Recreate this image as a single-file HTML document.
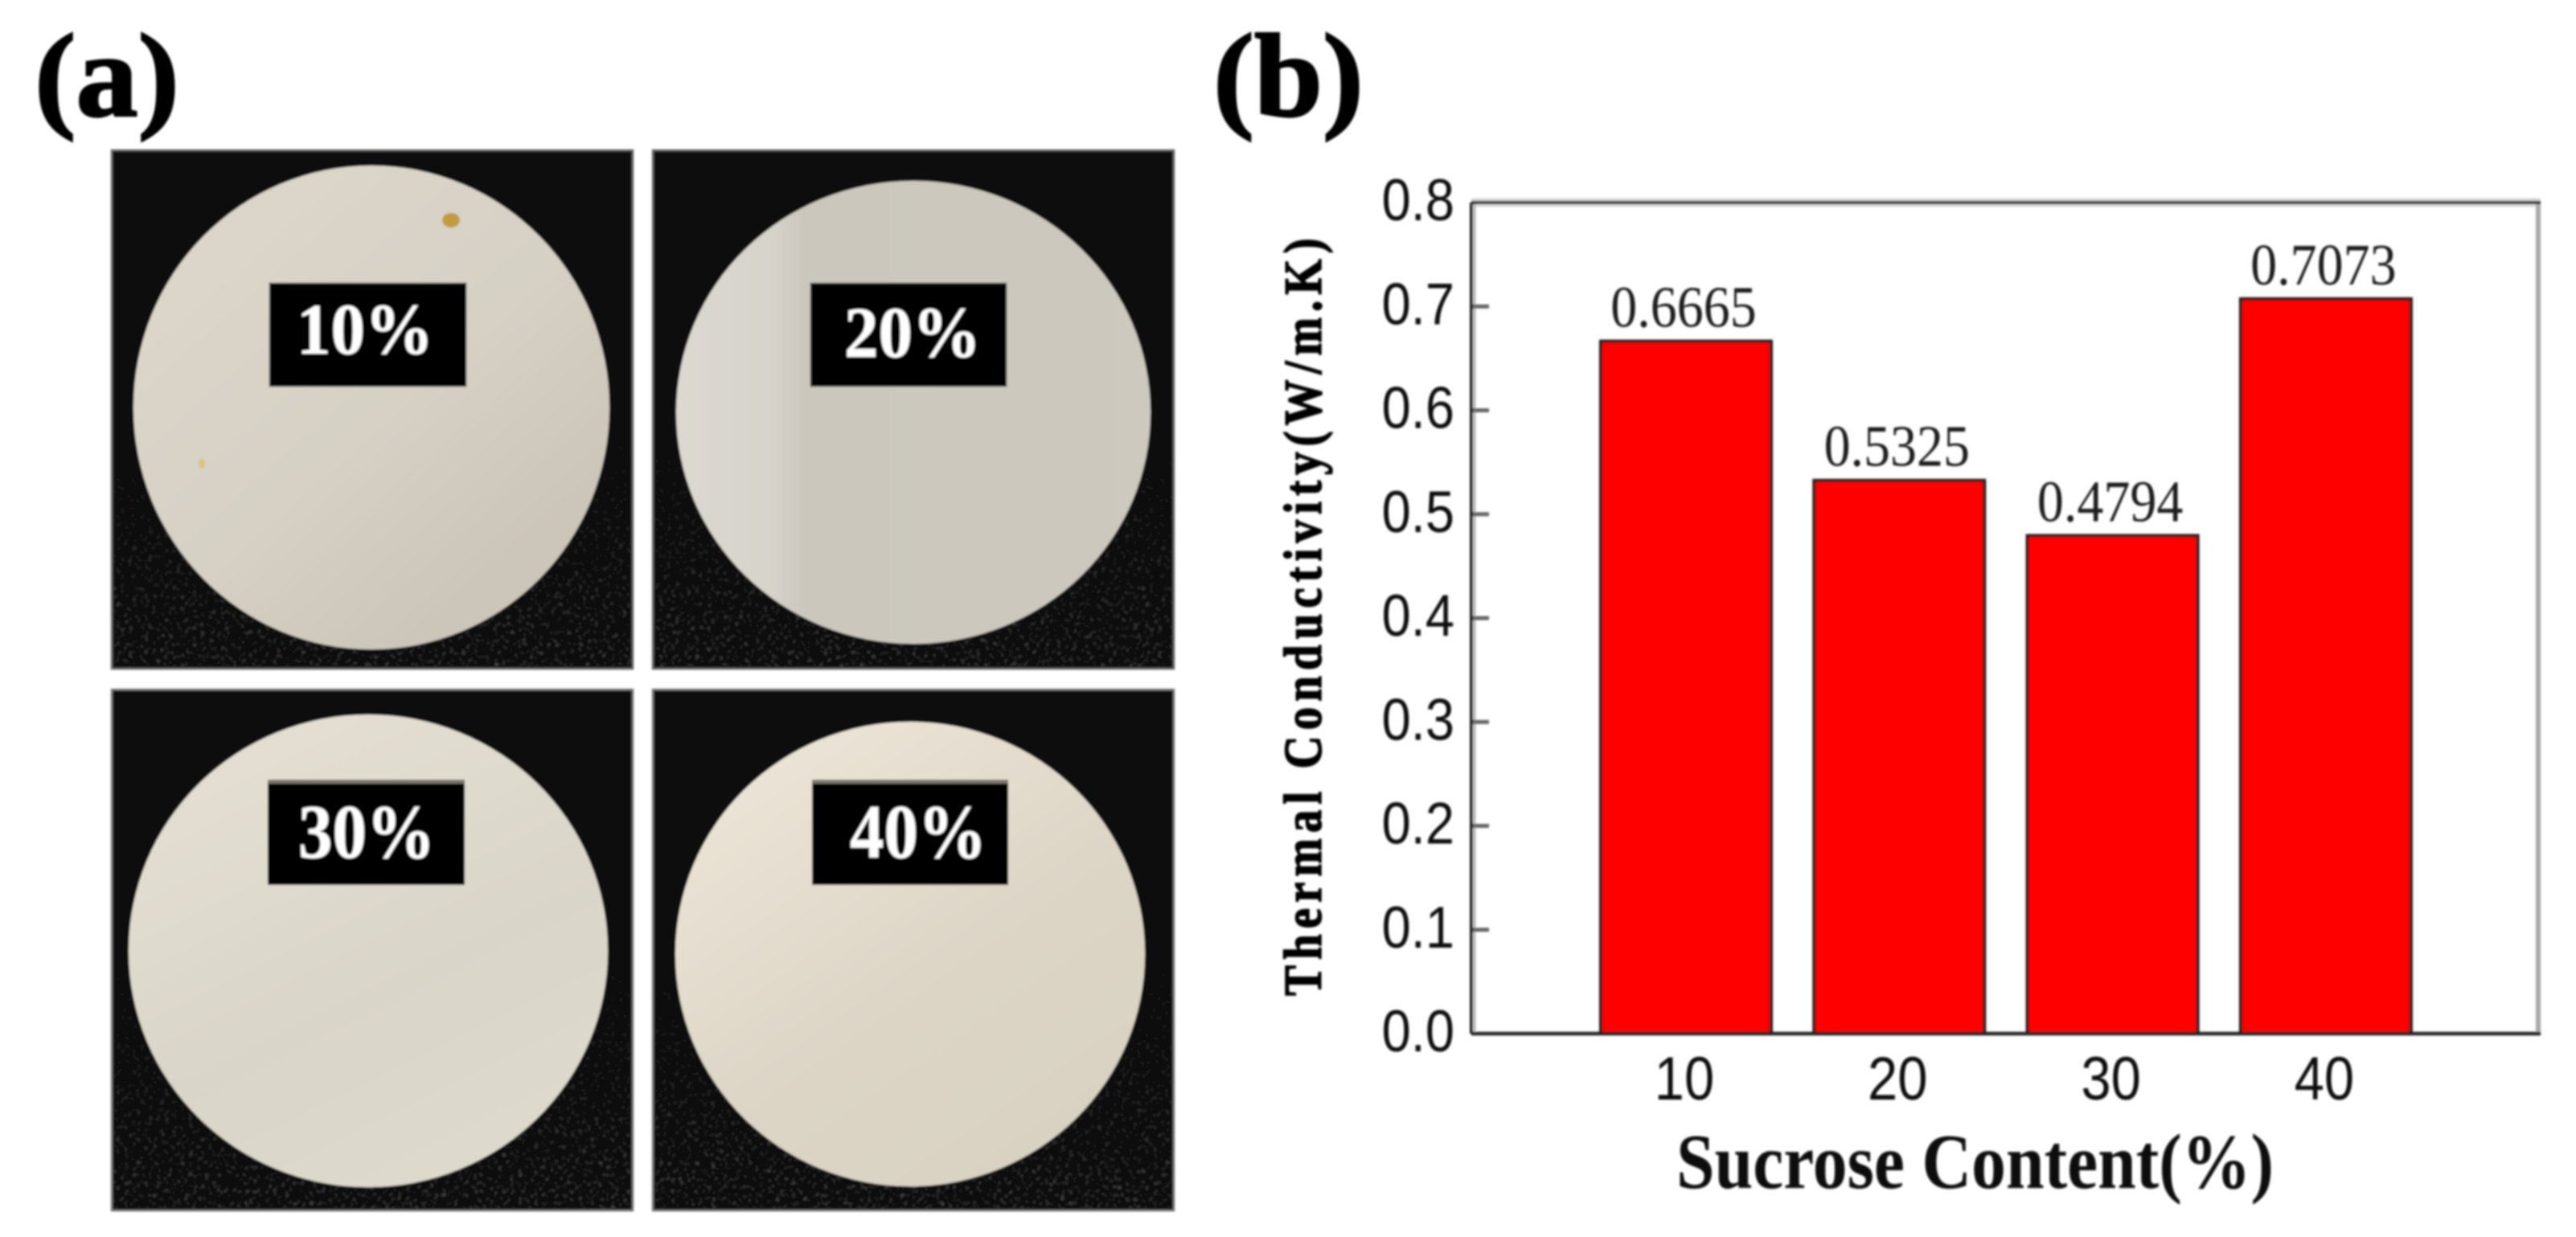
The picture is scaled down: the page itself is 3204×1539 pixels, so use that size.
<!DOCTYPE html>
<html lang="en">
<head>
<meta charset="utf-8">
<title>Sucrose content samples and thermal conductivity</title>
<style>
html,body{margin:0;padding:0;background:#fff;width:3204px;height:1539px;overflow:hidden}
svg{display:block}
.serif{font-family:"Liberation Serif",serif}
.sans{font-family:"Liberation Sans",sans-serif}
</style>
</head>
<body>
<svg id="figure" xmlns="http://www.w3.org/2000/svg" width="3204" height="1539" viewBox="0 0 3204 1539">
<defs>
<filter id="soft" filterUnits="userSpaceOnUse" x="0" y="0" width="3204" height="1539"><feGaussianBlur stdDeviation="1.2"/></filter>
<filter id="speckle" x="0" y="0" width="1" height="1">
<feTurbulence type="fractalNoise" baseFrequency="0.2" numOctaves="3" seed="7"/>
<feColorMatrix type="matrix" values="0 0 0 0 0.6  0 0 0 0 0.6  0 0 0 0 0.62  5 0 0 0 -2.9"/>
</filter>
<linearGradient id="fadeGrad" x1="0" y1="0" x2="0" y2="1">
<stop offset="0.5" stop-color="#000"/><stop offset="1" stop-color="#4a4a4a"/>
</linearGradient>
<mask id="lowerFade" maskContentUnits="objectBoundingBox"><rect x="0" y="0" width="1" height="1" fill="url(#fadeGrad)"/></mask>
<linearGradient id="disk10" x1="0.1" y1="0.1" x2="0.75" y2="0.85">
<stop offset="0" stop-color="#dcd6cb"/><stop offset="0.6" stop-color="#d6d0c5"/><stop offset="1" stop-color="#ccc5b9"/>
</linearGradient>
<linearGradient id="disk20" x1="0" y1="0" x2="1" y2="0">
<stop offset="0" stop-color="#dcd9d1"/><stop offset="0.2" stop-color="#d6d3cb"/><stop offset="0.27" stop-color="#cbc7bd"/><stop offset="1" stop-color="#cdc9bf"/>
</linearGradient>
<linearGradient id="disk30" x1="0.2" y1="0" x2="0.7" y2="1">
<stop offset="0" stop-color="#e5e0d3"/><stop offset="0.6" stop-color="#dad5c9"/><stop offset="1" stop-color="#dedacd"/>
</linearGradient>
<linearGradient id="disk40" x1="0.1" y1="0" x2="0.8" y2="1">
<stop offset="0" stop-color="#eee7d9"/><stop offset="0.6" stop-color="#dcd5c6"/><stop offset="1" stop-color="#d8d2c2"/>
</linearGradient>
</defs>

<rect x="0" y="0" width="3204" height="1539" fill="#fff"/>

<g class="serif" font-weight="700" fill="#050505" stroke="#050505" stroke-width="2.5" filter="url(#soft)">
<text x="43" y="144" font-size="148" textLength="180" lengthAdjust="spacingAndGlyphs">(a)</text>
<text x="1509" y="144" font-size="148" textLength="187" lengthAdjust="spacingAndGlyphs">(b)</text>
</g>

<g>
<g filter="url(#soft)">
<rect x="139" y="187" width="648" height="645" fill="#0e0e0e" stroke="#6a6a6a" stroke-width="2.5"/>
<g mask="url(#lowerFade)"><rect x="141" y="189" width="644" height="641" filter="url(#speckle)"/></g>
<ellipse cx="462" cy="507" rx="296" ry="301" fill="url(#disk10)"/>
<ellipse cx="561" cy="274" rx="11" ry="9" fill="#c39a3d"/>
<ellipse cx="251" cy="577" rx="4" ry="6" fill="#d9c47c"/>
<rect x="335" y="352" width="245" height="129" fill="#000" stroke="#777" stroke-width="1"/>
<text transform="translate(454,440) scale(1,1.06)" text-anchor="middle" class="serif" font-weight="700" font-size="85" fill="#fff">10%</text>
</g>
<g filter="url(#soft)">
<rect x="812" y="187" width="648" height="645" fill="#0e0e0e" stroke="#6a6a6a" stroke-width="2.5"/>
<g mask="url(#lowerFade)"><rect x="814" y="189" width="644" height="641" filter="url(#speckle)"/></g>
<ellipse cx="1136" cy="513" rx="295" ry="288" fill="url(#disk20)"/>
<rect x="1008" y="352" width="244" height="129" fill="#000" stroke="#777" stroke-width="1"/>
<text transform="translate(1135,444) scale(1,1.06)" text-anchor="middle" class="serif" font-weight="700" font-size="85" fill="#fff">20%</text>
</g>
<g filter="url(#soft)">
<rect x="139" y="858" width="648" height="648" fill="#0f0f0f" stroke="#7a7a7a" stroke-width="2.5"/>
<g mask="url(#lowerFade)"><rect x="141" y="860" width="644" height="644" filter="url(#speckle)"/></g>
<ellipse cx="458" cy="1183" rx="298" ry="294" fill="url(#disk30)"/>
<rect x="333" y="971" width="245" height="130" fill="#000"/>
<rect x="333" y="970" width="245" height="5" fill="#7a746b"/>
<text transform="translate(456,1067) scale(1,1.12)" text-anchor="middle" class="serif" font-weight="700" font-size="85" fill="#fff">30%</text>
</g>
<g filter="url(#soft)">
<rect x="812" y="858" width="648" height="648" fill="#0f0f0f" stroke="#7a7a7a" stroke-width="2.5"/>
<g mask="url(#lowerFade)"><rect x="814" y="860" width="644" height="644" filter="url(#speckle)"/></g>
<ellipse cx="1132" cy="1187" rx="292" ry="289" fill="url(#disk40)"/>
<rect x="1010" y="971" width="244" height="130" fill="#000"/>
<rect x="1010" y="970" width="244" height="5" fill="#7a746b"/>
<text transform="translate(1142,1067) scale(1,1.12)" text-anchor="middle" class="serif" font-weight="700" font-size="85" fill="#fff">40%</text>
</g>
</g>

<g id="chart" filter="url(#soft)"></g>
</svg>

<script>
const categories = [10, 20, 30, 40];
const conductivity = [0.6665, 0.5325, 0.4794, 0.7073];
const valueLabels = ['0.6665', '0.5325', '0.4794', '0.7073'];
const yTickValues = [0.0, 0.1, 0.2, 0.3, 0.4, 0.5, 0.6, 0.7, 0.8];
const yTickLabels = ['0.0', '0.1', '0.2', '0.3', '0.4', '0.5', '0.6', '0.7', '0.8'];
const xTickLabels = ['10', '20', '30', '40'];
const yAxisTitle = 'Thermal Conductivity(W/m.K)';
const xAxisTitle = 'Sucrose Content(%)';

const NS = 'http://www.w3.org/2000/svg';
const chart = document.getElementById('chart');
const frame = { left: 1830, right: 3157, top: 252, bottom: 1286 };
const barWidth = 212;

function xScale(c) { return 2097 + (c - 10) * 26.53; }
function yScale(v) { return frame.bottom - (v / 0.8) * (frame.bottom - frame.top); }
function make(tag, attrs, text) {
  const el = document.createElementNS(NS, tag);
  for (const k in attrs) el.setAttribute(k, attrs[k]);
  if (text !== undefined) el.textContent = text;
  chart.appendChild(el);
  return el;
}

const topHalo = make('line', { x1: frame.left, x2: frame.right + 3, y1: frame.top, y2: frame.top, stroke: '#d8d8d8', 'stroke-width': 11 });


const rightEdge = make('line', { x1: frame.right, x2: frame.right, y1: frame.top, y2: frame.bottom, stroke: '#a8a8a8', 'stroke-width': 6 });


const leftHalo = make('line', { x1: frame.left + 4, x2: frame.left + 4, y1: frame.top, y2: frame.bottom, stroke: '#b4b4b4', 'stroke-width': 3 });



categories.forEach(function (c, i) {
  const top = yScale(conductivity[i]);
  const bar = make('rect', { x: xScale(c) - barWidth / 2, y: top, width: barWidth, height: frame.bottom - top, fill: '#ff0000', stroke: '#2a1c1c', 'stroke-width': 4 });
  
  
  const val = make('text', { transform: 'translate(' + (xScale(c) - 3) + ',' + (top - 18) + ') scale(1,1.1)', 'text-anchor': 'middle', class: 'serif', 'font-size': 66, fill: '#1a1a1a' }, valueLabels[i]);
  
  
  const tick = make('text', { transform: 'translate(' + (xScale(c) - 2) + ',1368) scale(1,1.13)', 'text-anchor': 'middle', class: 'sans', 'font-size': 67, fill: '#111' }, xTickLabels[i]);
  
  
});

yTickValues.forEach(function (v, i) {
  const y = yScale(v);
  const label = make('text', { transform: 'translate(1809,' + (y + 22) + ') scale(1,1.13)', 'text-anchor': 'end', class: 'sans', 'font-size': 65, fill: '#111' }, yTickLabels[i]);
  
  
  if (i > 0 && i < yTickValues.length - 1) {
    const mark = make('line', { x1: frame.left, x2: frame.left + 22, y1: y, y2: y, stroke: '#666', 'stroke-width': 5 });
    
    
  }
});

const topEdge = make('line', { x1: frame.left, x2: frame.right + 3, y1: frame.top, y2: frame.top, stroke: '#222', 'stroke-width': 4 });


const bottomEdge = make('line', { x1: frame.left, x2: frame.right + 3, y1: frame.bottom, y2: frame.bottom, stroke: '#222', 'stroke-width': 4.5 });


const leftEdge = make('line', { x1: frame.left, x2: frame.left, y1: frame.top, y2: frame.bottom, stroke: '#0c0c0c', 'stroke-width': 3.5 });



const yTitle = make('text', { transform: 'translate(1643,1239) rotate(-90) scale(0.85,1)', class: 'serif', 'font-weight': 700, 'font-size': 67, fill: '#050505', stroke: '#050505', 'stroke-width': 1.6, textLength: 1109, lengthAdjust: 'spacing' }, yAxisTitle);


const xTitle = make('text', { x: 2085, y: 1478, class: 'serif', 'font-weight': 700, 'font-size': 97, fill: '#0a0a0a', textLength: 743, lengthAdjust: 'spacingAndGlyphs' }, xAxisTitle);


</script>
</body>
</html>
